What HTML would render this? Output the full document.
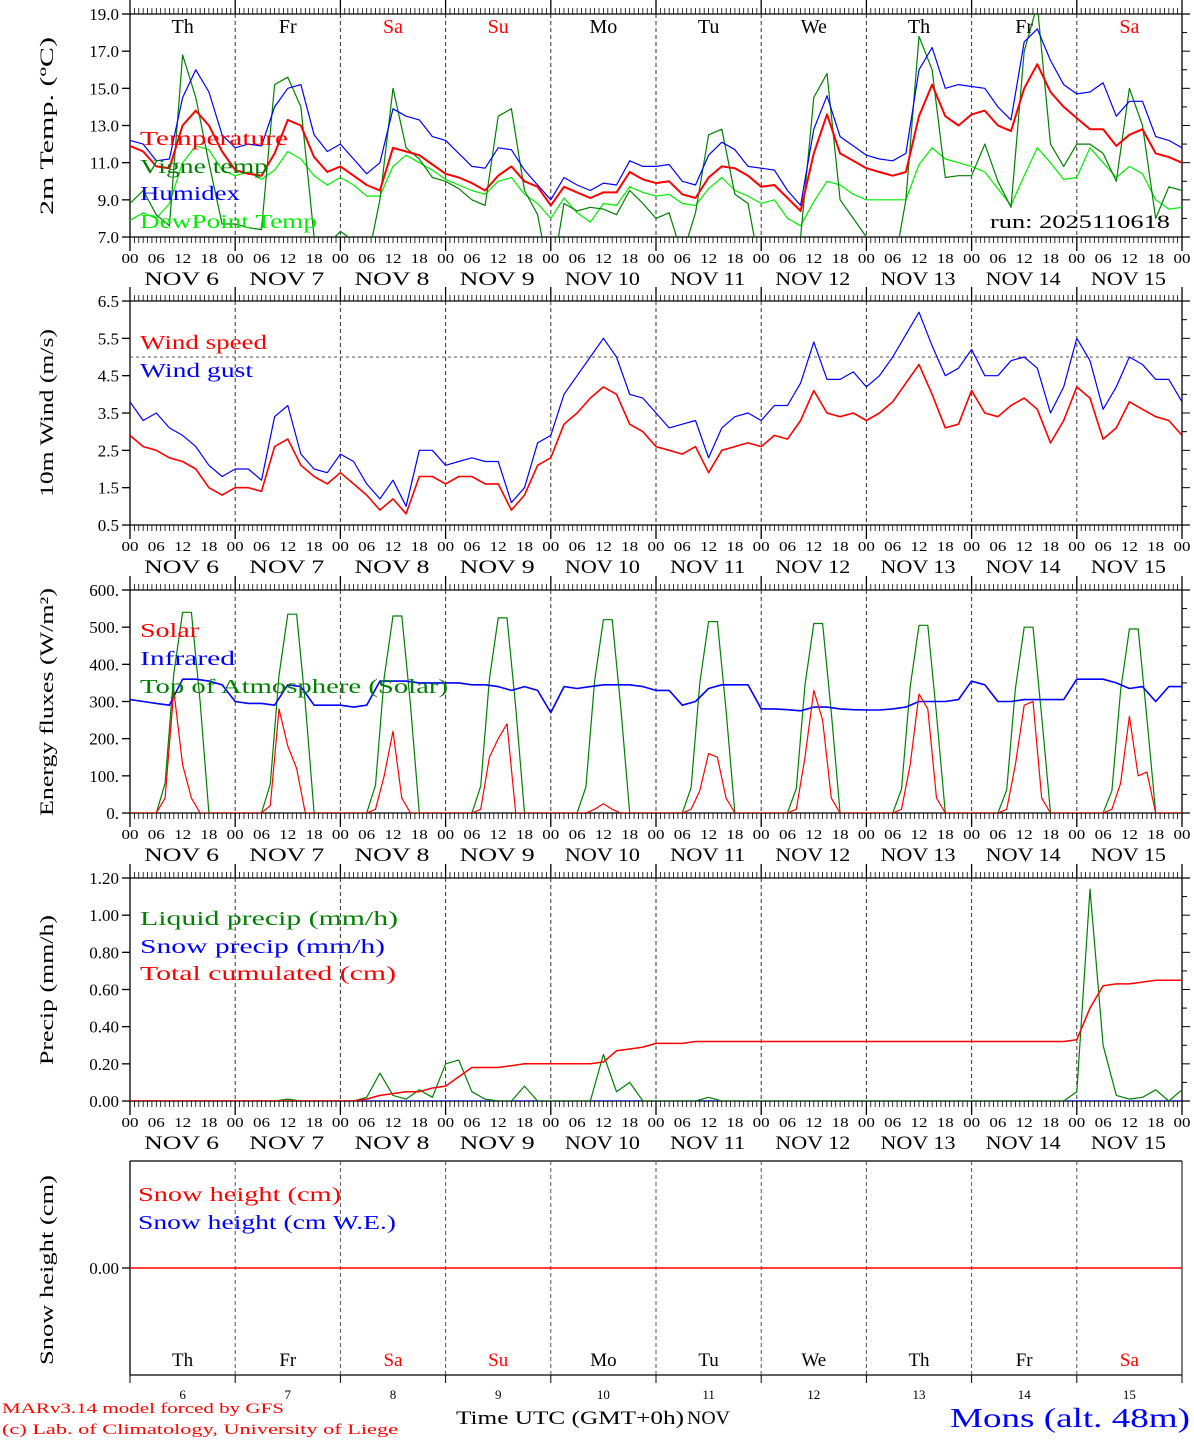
<!DOCTYPE html>
<html><head><meta charset="utf-8"><style>
html,body{margin:0;padding:0;background:#fff;}
svg{display:block;}
text{font-family:"Liberation Serif","DejaVu Serif",serif;}
</style></head><body>
<svg id="chart" width="1194" height="1440" viewBox="0 0 1194 1440" xmlns="http://www.w3.org/2000/svg">
<rect x="0" y="0" width="1194" height="1440" fill="#fff"/>
<g id="axes"></g>
<g id="marks"></g>
<!-- y-axis titles -->
<text transform="translate(53,126) rotate(-90)" text-anchor="middle" font-size="19" textLength="178" lengthAdjust="spacingAndGlyphs">2m Temp. (ºC)</text>
<text transform="translate(53,413) rotate(-90)" text-anchor="middle" font-size="19" textLength="168" lengthAdjust="spacingAndGlyphs">10m Wind (m/s)</text>
<text transform="translate(53,702) rotate(-90)" text-anchor="middle" font-size="19" textLength="228" lengthAdjust="spacingAndGlyphs">Energy fluxes (W/m²)</text>
<text transform="translate(53,990) rotate(-90)" text-anchor="middle" font-size="19" textLength="150" lengthAdjust="spacingAndGlyphs">Precip (mm/h)</text>
<text transform="translate(53,1270) rotate(-90)" text-anchor="middle" font-size="19" textLength="190" lengthAdjust="spacingAndGlyphs">Snow height (cm)</text>
<!-- legends -->
<text x="140" y="145" font-size="20" fill="#ff0000" textLength="148" lengthAdjust="spacingAndGlyphs">Temperature</text>
<text x="140" y="173" font-size="20" fill="#008000" textLength="128" lengthAdjust="spacingAndGlyphs">Vigne temp</text>
<text x="140" y="200" font-size="20" fill="#0000ff" textLength="100" lengthAdjust="spacingAndGlyphs">Humidex</text>
<text x="140" y="228" font-size="20" fill="#00ee00" textLength="177" lengthAdjust="spacingAndGlyphs">DewPoint Temp</text>
<text x="990" y="228" font-size="19" fill="#000" textLength="180" lengthAdjust="spacingAndGlyphs">run: 2025110618</text>
<text x="140" y="349" font-size="20" fill="#ff0000" textLength="127" lengthAdjust="spacingAndGlyphs">Wind speed</text>
<text x="140" y="377" font-size="20" fill="#0000ff" textLength="113" lengthAdjust="spacingAndGlyphs">Wind gust</text>
<text x="140" y="637" font-size="20" fill="#ff0000" textLength="59" lengthAdjust="spacingAndGlyphs">Solar</text>
<text x="140" y="665" font-size="20" fill="#0000ff" textLength="95" lengthAdjust="spacingAndGlyphs">Infrared</text>
<text x="140" y="693" font-size="20" fill="#008000" textLength="308" lengthAdjust="spacingAndGlyphs">Top of Atmosphere (Solar)</text>
<text x="140" y="925" font-size="20" fill="#008000" textLength="258" lengthAdjust="spacingAndGlyphs">Liquid precip (mm/h)</text>
<text x="140" y="953" font-size="20" fill="#0000ff" textLength="245" lengthAdjust="spacingAndGlyphs">Snow precip (mm/h)</text>
<text x="140" y="980" font-size="20" fill="#ff0000" textLength="256" lengthAdjust="spacingAndGlyphs">Total cumulated (cm)</text>
<text x="138" y="1201" font-size="20" fill="#ff0000" textLength="203" lengthAdjust="spacingAndGlyphs">Snow height (cm)</text>
<text x="138" y="1229" font-size="20" fill="#0000ff" textLength="258" lengthAdjust="spacingAndGlyphs">Snow height (cm W.E.)</text>
<!-- footer -->
<text x="2" y="1413" font-size="15" fill="#ff0000" textLength="282" lengthAdjust="spacingAndGlyphs">MARv3.14 model forced by GFS</text>
<text x="2" y="1434" font-size="15" fill="#ff0000" textLength="396" lengthAdjust="spacingAndGlyphs">(c) Lab. of Climatology, University of Liege</text>
<text x="456" y="1424" font-size="19" fill="#000" textLength="228" lengthAdjust="spacingAndGlyphs">Time UTC (GMT+0h)</text>
<text x="687" y="1424" font-size="19" fill="#000" textLength="43" lengthAdjust="spacingAndGlyphs">NOV</text>
<text x="950" y="1427" font-size="27" fill="#0000ff" textLength="240" lengthAdjust="spacingAndGlyphs">Mons (alt. 48m)</text>
</svg>
<script>
// ---- data (3-hourly from Nov 6 00 UTC unless noted) ----
const dayNames = ["Th","Fr","Sa","Su","Mo","Tu","We","Th","Fr","Sa"];
const dayNums = ["6","7","8","9","10","11","12","13","14","15"];
const hourLabels = ["00","06","12","18"];
const tempTicks = ["19.0","17.0","15.0","13.0","11.0","9.0","7.0"];
const windTicks = ["6.5","5.5","4.5","3.5","2.5","1.5","0.5"];
const energyTicks = ["600.","500.","400.","300.","200.","100.","0."];
const precipTicks = ["1.20","1.00","0.80","0.60","0.40","0.20","0.00"];
const temperature = [11.9,11.6,10.8,10.7,13.0,13.8,13.0,11.6, 10.6,10.4,10.3,11.5,13.3,13.0,11.3,10.5, 10.8,10.3,9.8,9.5,11.8,11.6,11.4,10.9, 10.4,10.2,9.9,9.5,10.3,10.8,10.0,9.7, 8.7,9.7,9.4,9.1,9.4,9.4,10.5,10.1, 9.9,10.0,9.3,9.1,10.2,10.8,10.7,10.3, 9.7,9.8,9.1,8.4,11.5,13.6,11.5,11.1, 10.7,10.5,10.3,10.5,13.5,15.2,13.5,13.0, 13.6,13.8,13.0,12.7,15.0,16.3,14.8,14.0, 13.4,12.8,12.8,11.9,12.5,12.8,11.5,11.3, 11.0];
const humidex = [12.2,12.0,11.1,11.2,14.5,16.0,14.8,12.5, 11.8,12.0,11.9,14.0,15.0,15.2,12.5,11.6, 12.0,11.2,10.4,11.0,13.9,13.5,13.3,12.4, 12.2,11.5,10.8,10.7,11.8,11.7,10.6,9.8, 9.0,10.2,9.8,9.5,9.9,9.8,11.1,10.8, 10.8,10.9,10.0,9.8,11.4,12.1,11.7,10.8, 10.7,10.6,9.5,8.7,12.8,14.6,12.4,11.9, 11.4,11.2,11.1,11.5,16.0,17.2,15.0,15.2, 15.1,15.0,14.0,13.3,17.5,18.2,16.5,15.2, 14.7,14.8,15.3,13.5,14.3,14.3,12.4,12.2, 11.8];
const dewpoint = [7.9,8.3,8.0,8.8,11.0,11.9,11.7,10.6, 10.3,10.5,10.1,10.6,11.6,11.2,10.3,9.8, 10.2,9.8,9.2,9.2,10.8,11.4,11.0,10.6, 10.1,9.8,9.5,9.3,10.0,10.2,9.3,8.8, 8.0,9.1,8.3,7.8,8.8,8.7,9.7,9.4, 9.2,9.3,8.8,8.7,9.6,10.2,9.5,9.2, 8.8,9.0,8.0,7.6,8.9,10.0,9.8,9.3, 9.0,9.0,9.0,9.0,10.9,11.8,11.2,11.0, 10.8,10.5,9.6,8.7,10.3,11.8,11.0,10.1, 10.2,11.8,11.0,10.2,10.8,10.4,9.0,8.5, 8.6];
const vigne = [8.8,9.5,8.2,7.6,16.8,14.5,11.0,7.7, 7.7,7.5,7.4,15.2,15.6,14.0,7.0,6.6, 7.3,6.8,5.5,9.0,15.0,11.8,11.2,10.2, 10.0,9.6,9.0,8.7,13.5,13.9,9.5,8.2, 4.5,8.8,8.4,8.6,8.5,8.2,9.5,8.8, 8.0,8.3,6.0,8.3,12.5,12.8,9.3,8.8, 5.0,5.0,5.5,7.0,14.5,15.8,9.0,8.0, 7.0,6.0,5.0,9.0,17.8,16.0,10.2,10.3, 10.3,12.0,10.0,8.6,17.0,19.5,12.0,10.8, 12.0,12.0,11.5,10.0,15.0,13.0,8.0,9.7, 9.5];
const windSpeed = [2.9,2.6,2.5,2.3,2.2,2.0,1.5,1.3, 1.5,1.5,1.4,2.6,2.8,2.1,1.8,1.6, 1.9,1.6,1.3,0.9,1.2,0.8,1.8,1.8, 1.6,1.8,1.8,1.6,1.6,0.9,1.3,2.1, 2.3,3.2,3.5,3.9,4.2,4.0,3.2,3.0, 2.6,2.5,2.4,2.6,1.9,2.5,2.6,2.7, 2.6,2.9,2.8,3.3,4.1,3.5,3.4,3.5, 3.3,3.5,3.8,4.3,4.8,4.0,3.1,3.2, 4.1,3.5,3.4,3.7,3.9,3.6,2.7,3.3, 4.2,3.9,2.8,3.1,3.8,3.6,3.4,3.3, 2.9];
const windGust = [3.8,3.3,3.5,3.1,2.9,2.6,2.1,1.8, 2.0,2.0,1.7,3.4,3.7,2.4,2.0,1.9, 2.4,2.2,1.6,1.2,1.7,1.0,2.5,2.5, 2.1,2.2,2.3,2.2,2.2,1.1,1.5,2.7, 2.9,4.0,4.5,5.0,5.5,5.0,4.0,3.9, 3.5,3.1,3.2,3.3,2.3,3.1,3.4,3.5, 3.3,3.7,3.7,4.3,5.4,4.4,4.4,4.6, 4.2,4.5,5.0,5.6,6.2,5.3,4.5,4.7, 5.2,4.5,4.5,4.9,5.0,4.7,3.5,4.2, 5.5,4.9,3.6,4.2,5.0,4.8,4.4,4.4, 3.8];
const infrared = [305,300,295,290,360,360,355,345, 300,295,295,290,345,340,290,290, 290,285,290,355,355,355,350,350, 350,350,345,345,340,330,340,330, 270,340,335,340,345,345,345,340, 330,330,290,300,335,345,345,345, 280,280,278,275,285,285,280,278, 277,277,280,285,300,300,300,305, 355,345,300,300,305,305,305,305, 360,360,360,350,335,340,300,340, 340];
// 2-hourly (00,02,...,22 each day)
const solar = [0,0,0,0,40,330,130,40,0,0,0,0, 0,0,0,0,20,280,180,120,0,0,0,0, 0,0,0,0,10,100,220,40,0,0,0,0, 0,0,0,0,10,150,200,240,0,0,0,0, 0,0,0,0,0,10,25,10,0,0,0,0, 0,0,0,0,10,60,160,150,40,0,0,0, 0,0,0,0,10,150,330,250,40,0,0,0, 0,0,0,0,10,130,320,280,40,0,0,0, 0,0,0,0,10,130,290,300,40,0,0,0, 0,0,0,0,10,80,260,100,110,0,0,0, 0];
const toaSolar = [0,0,0,0,80,375,540,540,300,0,0,0, 0,0,0,0,78,370,535,535,295,0,0,0, 0,0,0,0,75,365,530,530,290,0,0,0, 0,0,0,0,72,360,525,525,285,0,0,0, 0,0,0,0,70,355,520,520,280,0,0,0, 0,0,0,0,68,350,515,515,275,0,0,0, 0,0,0,0,66,345,510,510,270,0,0,0, 0,0,0,0,64,340,505,505,265,0,0,0, 0,0,0,0,62,335,500,500,260,0,0,0, 0,0,0,0,60,330,495,495,255,0,0,0, 0];
const liquidPrecip = [0,0,0,0,0,0,0,0, 0,0,0,0,0.01,0,0,0, 0,0,0.02,0.15,0.03,0.01,0.06,0.02, 0.2,0.22,0.05,0.01,0,0,0.08,0, 0,0,0,0,0.25,0.05,0.1,0, 0,0,0,0,0.02,0,0,0, 0,0,0,0,0,0,0,0, 0,0,0,0,0,0,0,0, 0,0,0,0,0,0,0,0, 0.05,1.14,0.3,0.03,0.01,0.02,0.06,0, 0.06];
const cumulated = [0,0,0,0,0,0,0,0, 0,0,0,0,0,0,0,0, 0,0,0.01,0.03,0.04,0.05,0.05,0.07, 0.08,0.13,0.18,0.18,0.18,0.19,0.2,0.2, 0.2,0.2,0.2,0.2,0.21,0.27,0.28,0.29, 0.31,0.31,0.31,0.32,0.32,0.32,0.32,0.32, 0.32,0.32,0.32,0.32,0.32,0.32,0.32,0.32, 0.32,0.32,0.32,0.32,0.32,0.32,0.32,0.32, 0.32,0.32,0.32,0.32,0.32,0.32,0.32,0.32, 0.33,0.5,0.62,0.63,0.63,0.64,0.65,0.65, 0.65];
const snowPrecip = new Array(81).fill(0);
const snowHeight = new Array(81).fill(0);

// ---- geometry ----
const X0=130, X1=1182;
const NS="http://www.w3.org/2000/svg";
const axesG=document.getElementById('axes');
const marksG=document.getElementById('marks');
const xh = h => X0 + (X1-X0)*h/240;
const panels = [
  {top:14, bot:237, min:7, max:19},
  {top:301, bot:525, min:0.5, max:6.5},
  {top:590, bot:813, min:0, max:600},
  {top:878, bot:1101, min:0, max:1.2},
  {top:1161, bot:1375, min:-1, max:1}
];
const yv = (p,v) => p.bot - (v-p.min)/(p.max-p.min)*(p.bot-p.top);
function mk(parent, tag, attrs, txt){
  const e=document.createElementNS(NS,tag);
  for(const k in attrs) e.setAttribute(k,attrs[k]);
  if(txt!==undefined) e.textContent=txt;
  parent.appendChild(e);
  return e;
}
// clip paths
const defs=mk(document.getElementById('chart'),'defs',{});
panels.forEach((p,i)=>{
  const cp=mk(defs,'clipPath',{id:'clip'+i});
  mk(cp,'rect',{x:X0,y:p.top,width:X1-X0,height:p.bot-p.top});
});

panels.forEach((p,i)=>{
  // frame
  const left=mk(axesG,'line',{x1:X0,y1:p.top-(i==4?0:0),x2:X0,y2:p.bot,stroke:'#000','stroke-width':1.3});
  
  
  if(i<4){
    const right=mk(axesG,'line',{x1:X1,y1:p.top,x2:X1,y2:p.bot,stroke:'#000','stroke-width':1.3});
    
    
  } else {
    const right=mk(axesG,'line',{x1:X1,y1:p.top,x2:X1,y2:p.bot,stroke:'#000','stroke-width':1});
    
    
  }
  const topL=mk(axesG,'line',{x1:X0,y1:p.top,x2:X1+ (i<4?8:0),y2:p.top,stroke:'#000','stroke-width':1.3});
  
  
  const botL=mk(axesG,'line',{x1:X0,y1:p.bot,x2:X1+(i<4?8:0),y2:p.bot,stroke:'#000','stroke-width':1.3});
  
  
  // hourly ticks
  if(i<4){
    for(let h=0;h<=240;h++){
      const major=h%24===0;
      const x=xh(h);
      const t1=mk(axesG,'line',{x1:x,y1:p.top-(major?14:6),x2:x,y2:p.top,stroke:'#000','stroke-width':major?1.3:0.8});
      
      
      const t2=mk(axesG,'line',{x1:x,y1:p.bot,x2:x,y2:p.bot+(major?14:6),stroke:'#000','stroke-width':major?1.3:0.8});
      
      
    }
    // hour labels & dates
    for(let d=0;d<10;d++){
      hourLabels.forEach((lab,k)=>{
        const t=mk(axesG,'text',{x:xh(d*24+k*6),y:p.bot+26,'font-size':14,'text-anchor':'middle',textLength:17,lengthAdjust:'spacingAndGlyphs'},lab);
        
        
      });
      const nt=mk(axesG,'text',{x:xh(d*24+12)-1,y:p.bot+48,'font-size':19,'text-anchor':'middle',textLength:75,lengthAdjust:'spacingAndGlyphs','xml:space':'preserve'},'NOV '+(dayNums[d].length<2?' ':'')+dayNums[d]);
      
      
    }
    const tl=mk(axesG,'text',{x:xh(240),y:p.bot+26,'font-size':14,'text-anchor':'middle',textLength:17,lengthAdjust:'spacingAndGlyphs'},'00');
    
    
  } else {
    for(let d=0;d<=10;d++){
      const x=xh(d*24);
      const t=mk(axesG,'line',{x1:x,y1:p.bot,x2:x,y2:p.bot+8,stroke:'#000','stroke-width':1});
      
      
    }
    for(let d=0;d<10;d++){
      const nm=mk(axesG,'text',{x:xh(d*24+12),y:1366,'font-size':19,'text-anchor':'middle',fill:(dayNames[d]==='Sa'||dayNames[d]==='Su')?'#ff0000':'#000'},dayNames[d]);
      
      
      const dn=mk(axesG,'text',{x:xh(d*24+12),y:1399,'font-size':13,'text-anchor':'middle'},dayNums[d]);
      
      
    }
  }
  // day separators
  for(let d=1;d<10;d++){
    const x=xh(d*24);
    const s=mk(axesG,'line',{x1:x,y1:p.top,x2:x,y2:p.bot,stroke:i==4?'#555':'#333','stroke-width':1,'stroke-dasharray':'4,3'});
    
    
  }
});
// day names panel 1
for(let d=0;d<10;d++){
  const nm=mk(axesG,'text',{x:xh(d*24+12),y:33,'font-size':20,'text-anchor':'middle',fill:(dayNames[d]==='Sa'||dayNames[d]==='Su')?'#ff0000':'#000'},dayNames[d]);
  
  
}
// y ticks
function yTicks(p,labels,minorStep){
  const n=labels.length-1;
  labels.forEach((lab,k)=>{
    const y=p.top+(p.bot-p.top)*k/n;
    const t=mk(axesG,'line',{x1:X0-8,y1:y,x2:X0,y2:y,stroke:'#000','stroke-width':1.3});
    
    
    const l=mk(axesG,'text',{x:X0-11,y:y+6,'font-size':17,'text-anchor':'end'},lab);
    
    
  });
  const m=n*minorStep;
  for(let k=0;k<=m;k++){
    const y=p.top+(p.bot-p.top)*k/m;
    const t=mk(axesG,'line',{x1:X1,y1:y,x2:X1+(k%minorStep===0?8:5),y2:y,stroke:'#000','stroke-width':1});
    
    
  }
}
yTicks(panels[0],tempTicks,2);
yTicks(panels[1],windTicks,2);
yTicks(panels[2],energyTicks,2);
yTicks(panels[3],precipTicks,2);
{
  const y=yv(panels[4],0);
  const t=mk(axesG,'line',{x1:X0-8,y1:y,x2:X0,y2:y,stroke:'#000','stroke-width':1.3});
  
  
  const l=mk(axesG,'text',{x:X0-11,y:y+6,'font-size':17,'text-anchor':'end'},'0.00');
  
  
}
// gust reference line
{
  const y=yv(panels[1],5.0);
  const g=mk(axesG,'line',{x1:X0,y1:y,x2:X1,y2:y,stroke:'#555','stroke-width':1,'stroke-dasharray':'3,3'});
  
  
}
// series
function series(arr,pi,step,color,w,name){
  const p=panels[pi];
  const pts=arr.map((v,k)=>xh(k*step).toFixed(1)+','+yv(p,v).toFixed(1)).join(' ');
  const e=mk(marksG,'polyline',{points:pts,fill:'none',stroke:color,'stroke-width':w,'stroke-linejoin':'round','clip-path':'url(#clip'+pi+')'});
  
  
}
series(dewpoint,0,3,'#00ee00',1.2,'dewpoint-line');
series(vigne,0,3,'#008000',1.2,'vigne-temp-line');
series(humidex,0,3,'#0000ff',1.2,'humidex-line');
series(temperature,0,3,'#ff0000',2,'temperature-line');
series(windGust,1,3,'#0000ff',1.2,'wind-gust-line');
series(windSpeed,1,3,'#ff0000',1.6,'wind-speed-line');
series(toaSolar,2,2,'#008000',1.2,'toa-solar-line');
series(infrared,2,3,'#0000ff',1.6,'infrared-line');
series(solar,2,2,'#ff0000',1.2,'solar-line');
series(snowPrecip,3,3,'#0000ff',1.2,'snow-precip-line');
series(liquidPrecip,3,3,'#008000',1.2,'liquid-precip-line');
series(cumulated,3,3,'#ff0000',1.5,'cumulated-precip-line');
series(snowHeight,4,3,'#ff0000',1.5,'snow-height-line');
</script>
</body></html>
